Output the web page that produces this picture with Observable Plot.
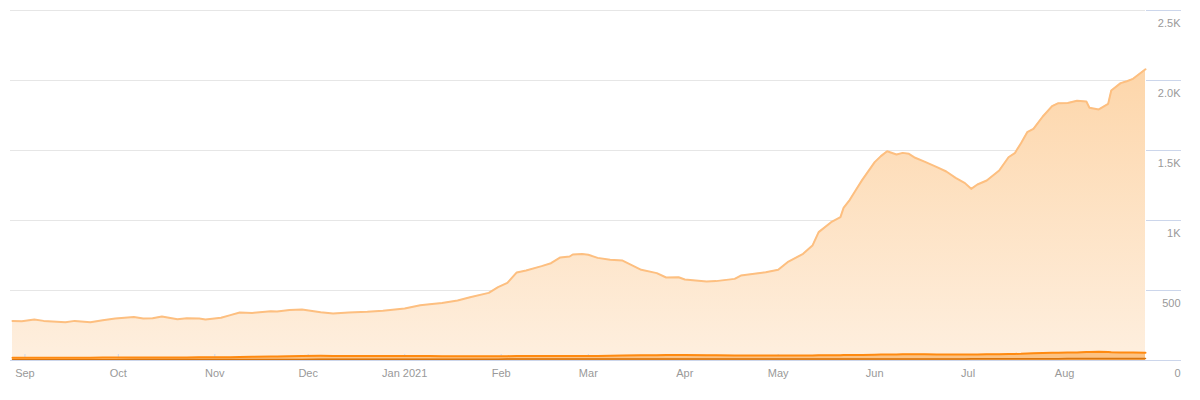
<!DOCTYPE html>
<html>
<head>
<meta charset="utf-8">
<script src="https://cdn.jsdelivr.net/npm/d3@7"></script>
<script src="https://cdn.jsdelivr.net/npm/@observablehq/plot@0.6"></script>
<style>
  html, body { margin: 0; padding: 0; background: #fff; }
</style>
</head>
<body>
<div id="chart"></div>
<script>
// ---- data ----
const dates = [
  "2020-08-28","2020-08-31","2020-09-04","2020-09-07","2020-09-14","2020-09-17","2020-09-22","2020-09-26","2020-09-30",
  "2020-10-06","2020-10-09","2020-10-12","2020-10-15","2020-10-20","2020-10-23","2020-10-27","2020-10-29",
  "2020-11-03","2020-11-06","2020-11-09","2020-11-13","2020-11-19","2020-11-21","2020-11-25","2020-11-29",
  "2020-12-05","2020-12-09","2020-12-14","2020-12-20","2020-12-25",
  "2021-01-01","2021-01-06","2021-01-09","2021-01-13","2021-01-18","2021-01-22","2021-01-28","2021-01-31",
  "2021-02-03","2021-02-06","2021-02-09","2021-02-14","2021-02-17","2021-02-20","2021-02-23","2021-02-24","2021-02-27",
  "2021-03-01","2021-03-04","2021-03-08","2021-03-12","2021-03-18","2021-03-23","2021-03-26","2021-03-30",
  "2021-04-01","2021-04-08","2021-04-11","2021-04-17","2021-04-19","2021-04-27",
  "2021-05-01","2021-05-04","2021-05-09","2021-05-12","2021-05-14","2021-05-18","2021-05-21","2021-05-22","2021-05-24","2021-05-26","2021-05-28",
  "2021-06-01","2021-06-03","2021-06-05","2021-06-08","2021-06-10","2021-06-12","2021-06-14","2021-06-17","2021-06-21","2021-06-24","2021-06-27","2021-06-30",
  "2021-07-02","2021-07-04","2021-07-07","2021-07-11","2021-07-14","2021-07-16","2021-07-18","2021-07-20","2021-07-22","2021-07-25","2021-07-28","2021-07-30",
  "2021-08-02","2021-08-05","2021-08-08","2021-08-09","2021-08-12","2021-08-15","2021-08-16","2021-08-19","2021-08-21","2021-08-23","2021-08-27"
];
// top (light) layer level
const totalLevel = [
  283,281,293,283,274,283,274,288,300,
  310,300,302,314,295,302,300,293,
  305,324,343,340,352,350,360,364,
  345,336,343,348,355,
  371,395,402,410,429,452,483,524,
  555,629,643,674,695,736,743,757,760,
  755,733,719,714,648,624,593,595,
  579,564,567,583,607,631,
  648,702,762,821,917,988,1024,1090,1148,1219,1290,
  1417,1460,1495,1471,1483,1476,1448,1421,1381,1350,1305,1267,
  1226,1257,1286,1357,1452,1481,1552,1631,1655,1743,1817,1838,
  1840,1855,1850,1805,1793,1833,1929,1981,1995,2012,2080
];
// middle (orange) layer level
const midLevel = [
  20,20,20,20,19,20,20,21,21,
  21,21,22,22,22,22,23,23,
  23,24,25,26,28,29,31,33,
  34,33,33,33,32,
  32,32,32,31,31,31,31,31,
  31,32,32,32,33,33,33,33,33,
  33,33,34,35,37,38,39,39,
  39,38,37,36,36,35,
  35,35,36,36,37,38,38,39,39,40,40,
  41,42,43,43,44,44,44,44,43,43,43,43,
  43,43,44,45,46,47,48,50,52,54,55,56,
  57,58,60,61,63,60,59,58,57,57,56
];
// bottom (dark orange) layer level
const lowLevel = [
  6,6,6,6,6,6,6,6,6,
  7,7,7,7,7,7,7,7,
  8,8,8,8,8,8,8,8,
  9,9,9,9,9,
  9,9,9,9,9,9,9,9,
  10,10,10,10,10,10,10,10,10,
  10,10,10,10,10,10,10,10,
  10,10,10,10,10,10,
  11,11,11,11,11,11,11,11,11,11,11,
  11,11,11,11,11,11,11,11,11,11,11,11,
  12,12,12,12,12,12,12,12,12,12,12,12,
  14,14,15,15,15,15,15,15,15,14,14
];
const yTicks = [0, 500, 1000, 1500, 2000, 2500];
const yTickLabels = ["0", "500", "1K", "1.5K", "2.0K", "2.5K"];
const monthTicks = ["2020-09-01","2020-10-01","2020-11-01","2020-12-01","2021-01-01","2021-02-01",
  "2021-03-01","2021-04-01","2021-05-01","2021-06-01","2021-07-01","2021-08-01"];
const monthLabels = ["Sep","Oct","Nov","Dec","Jan 2021","Feb","Mar","Apr","May","Jun","Jul","Aug"];

// ---- build ----
const parse = d3.utcParse("%Y-%m-%d");
const rows = dates.map((d, i) => ({date: parse(d), total: totalLevel[i], mid: midLevel[i], low: lowLevel[i]}));
const monthDates = monthTicks.map(parse);

function gradientDefs() {
  const ns = "http://www.w3.org/2000/svg";
  const defs = document.createElementNS(ns, "defs");
  const lg = document.createElementNS(ns, "linearGradient");
  lg.setAttribute("id", "topFill");
  lg.setAttribute("x1", "0"); lg.setAttribute("y1", "0");
  lg.setAttribute("x2", "0"); lg.setAttribute("y2", "1");
  [["0", "#fdd6aa"], ["1", "#feefdf"]].forEach(([o, c]) => {
    const s = document.createElementNS(ns, "stop");
    s.setAttribute("offset", o); s.setAttribute("stop-color", c);
    lg.appendChild(s);
  });
  defs.appendChild(lg);
  return defs;
}

const chart = Plot.plot({
  width: 1200,
  height: 400,
  marginTop: 10,
  marginBottom: 40,
  marginLeft: 12,
  marginRight: 55,
  style: {fontFamily: "'Liberation Sans', Arial, sans-serif", fontSize: "11px", color: "#999", background: "#fff"},
  x: {type: "utc", domain: [rows[0].date, rows[rows.length - 1].date]},
  y: {domain: [0, 2500]},
  marks: [
    gradientDefs,
    Plot.ruleY(yTicks.filter(v => v > 0), {stroke: "#e6e6e6", insetLeft: -2}),
    Plot.areaY(rows, {x: "date", y: "total", fill: "url(#topFill)"}),
    Plot.lineY(rows, {x: "date", y: "total", stroke: "#fdbf80", strokeWidth: 2}),
    Plot.axisX({ticks: monthDates, tickSize: 6, dy: -6, tickFormat: () => "", stroke: "#ccd6eb"}),
    Plot.areaY(rows, {x: "date", y: "mid", fill: "#fcc283"}),
    Plot.lineY(rows, {x: "date", y: "mid", stroke: "#ff8a10", strokeWidth: 2}),
    Plot.areaY(rows, {x: "date", y: "low", fill: "#f5a451"}),
    Plot.lineY(rows, {x: "date", y: "low", stroke: "#d8740d", strokeWidth: 1.5}),
    Plot.ruleY([0], {stroke: "#ccd6eb", insetLeft: -2, insetRight: -35}),
    Plot.axisX({ticks: monthDates, tickSize: 0, tickPadding: 9,
      tickFormat: d => monthLabels[monthDates.findIndex(m => +m === +d)], fill: "#999"}),
    Plot.axisY({anchor: "right", ticks: yTicks, tickSize: 35, tickFormat: () => "", stroke: "#ccd6eb"}),
    Plot.axisY({anchor: "right", ticks: yTicks, tickSize: 35, tickPadding: 0, textAnchor: "end", dy: 13,
      tickFormat: d => yTickLabels[yTicks.indexOf(d)], stroke: "none", fill: "#999"})
  ]
});
document.getElementById("chart").appendChild(chart);
</script>
</body>
</html>
